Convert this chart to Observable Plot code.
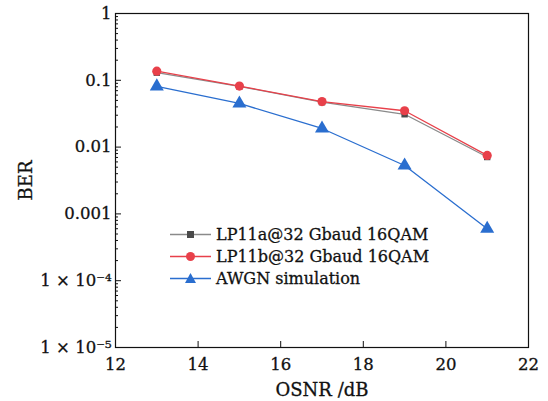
<!DOCTYPE html>
<html>
<head>
<meta charset="utf-8">
<script src="https://cdn.jsdelivr.net/npm/d3@7"></script>
<script src="https://cdn.jsdelivr.net/npm/@observablehq/plot@0.6"></script>
<style>
  body { margin: 0; background: #fff; }
  #wrap { position: relative; width: 548px; height: 401px; }
  #wrap svg text { font-size: 16.5px !important; fill: #111; stroke: #111; stroke-width: 0.3px; }
  #wrap svg g[aria-label$="axis label"] text { font-size: 18px !important; }
  #legend { position: absolute; left: 170px; top: 223px; font-family: "DejaVu Serif", serif; font-size: 16px; color: #111; -webkit-text-stroke: 0.3px #111; }
  #legend .row { display: flex; align-items: center; height: 22px; }
  #legend svg { margin-right: 4px; }
</style>
</head>
<body>
<div id="wrap"></div>
<script>
const osnr = [13, 15, 17, 19, 21];
const lp11a = [0.13, 0.081, 0.047, 0.031, 0.0071];
const lp11b = [0.137, 0.082, 0.048, 0.035, 0.0075];
const awgn = [0.081, 0.045, 0.019, 0.0053, 0.0006];
const seriesNames = ["LP11a@32 Gbaud 16QAM", "LP11b@32 Gbaud 16QAM", "AWGN simulation"];
const xTicks = [12, 14, 16, 18, 20, 22];
const yTicks = [1, 0.1, 0.01, 0.001, 1e-4, 1e-5];
const yTickLabels = ["1", "0.1", "0.01", "0.001", "1 × 10⁻⁴", "1 × 10⁻⁵"];

const styles = [
  {line: "#8a8a8a", fill: "#4a4a4a", symbol: "square", r: 3.6},
  {line: "#e8404a", fill: "#e8404a", symbol: "circle", r: 4.6},
  {line: "#2a6ecf", fill: "#2a6ecf", symbol: "triangle", r: 5.2}
];
const seriesVals = [lp11a, lp11b, awgn];
const data = [];
seriesVals.forEach((vals, i) => osnr.forEach((x, j) => data.push({series: seriesNames[i], x, y: vals[j]})));

const minor = [];
for (let k = -5; k < 0; k++) for (let d = 2; d <= 9; d++) minor.push(d * Math.pow(10, k));

const font = "DejaVu Serif";
const marks = [Plot.frame({stroke: "#111", strokeWidth: 1.2})];
seriesNames.forEach((name, i) => {
  const s = styles[i];
  const sub = data.filter(d => d.series === name);
  marks.push(Plot.line(sub, {x: "x", y: "y", stroke: s.line, strokeWidth: 1.3}));
  marks.push(Plot.dot(sub, {x: "x", y: "y", symbol: () => s.symbol, fill: s.fill, stroke: "none", r: s.r}));
});
marks.push(
  Plot.axisY({ticks: minor, tickSize: -3, text: null, label: null, stroke: "#111"}),
  Plot.axisY({ticks: yTicks, tickSize: -6, tickPadding: 10, stroke: "#111",
    tickFormat: d => yTickLabels[yTicks.indexOf(d)],
    label: "BER", labelAnchor: "center", labelArrow: "none", labelOffset: 96}),
  Plot.axisX({ticks: xTicks, tickSize: -6, tickPadding: 17, stroke: "#111",
    label: "OSNR /dB", labelAnchor: "center", labelArrow: "none", labelOffset: 48})
);

const chart = Plot.plot({
  width: 548, height: 401,
  marginLeft: 115, marginTop: 13, marginRight: 20, marginBottom: 54,
  style: {fontFamily: font, fontSize: "16px", color: "#111", background: "#fff"},
  x: {domain: [12, 22]},
  y: {type: "log", domain: [1e-5, 1]},
  marks
});
document.getElementById("wrap").appendChild(chart);

const legend = document.createElement("div");
legend.id = "legend";
seriesNames.forEach((name, i) => {
  const s = styles[i];
  const row = document.createElement("div");
  row.className = "row";
  let sym;
  if (s.symbol === "square") sym = `<rect x="17" y="7" width="7" height="7" fill="${s.fill}"/>`;
  else if (s.symbol === "circle") sym = `<circle cx="20.5" cy="10.5" r="4.5" fill="${s.fill}"/>`;
  else sym = `<path d="M20.5,5 L26,15 L15,15 Z" fill="${s.fill}"/>`;
  row.innerHTML = `<svg width="42" height="21"><line x1="0" x2="41" y1="10.5" y2="10.5" stroke="${s.line}" stroke-width="1.3"/>${sym}</svg><span>${name}</span>`;
  legend.appendChild(row);
});
document.getElementById("wrap").appendChild(legend);
</script>
</body>
</html>
